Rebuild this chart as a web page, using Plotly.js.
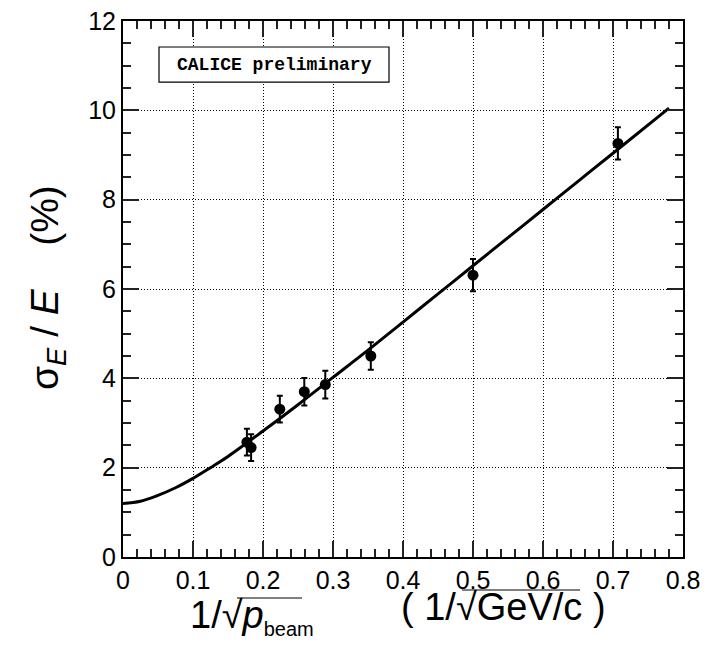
<!DOCTYPE html>
<html>
<head>
<meta charset="utf-8">
<script src="https://cdn.plot.ly/plotly-3.0.1.min.js"></script>
<style>html,body{margin:0;padding:0;background:#fff;}</style>
</head>
<body>
<div id="chart" style="width:721px;height:652px;"></div>
<script>
// Data points: 1/sqrt(p_beam) and relative energy resolution (%)
const xData = [0.177, 0.183, 0.224, 0.259, 0.289, 0.354, 0.500, 0.707];
const yData = [2.57, 2.45, 3.31, 3.70, 3.86, 4.50, 6.31, 9.26];
const yErr  = [0.30, 0.30, 0.30, 0.31, 0.31, 0.31, 0.36, 0.36];

// Fit curve
const xFit = [0, 0.025, 0.05, 0.075, 0.1, 0.125, 0.15, 0.2, 0.25, 0.3, 0.35, 0.4, 0.45, 0.5, 0.55, 0.6, 0.65, 0.7, 0.78];
const yFit = [1.20, 1.25, 1.38, 1.55, 1.76, 2.00, 2.25, 2.82, 3.41, 4.02, 4.63, 5.26, 5.89, 6.52, 7.15, 7.78, 8.41, 9.04, 10.05];

// Axis ticks
const xTicks = [0, 0.1, 0.2, 0.3, 0.4, 0.5, 0.6, 0.7, 0.8];
const yTicks = [0, 2, 4, 6, 8, 10, 12];
const xMinorStep = 0.02;
const yMinorStep = 0.5;

const labelFont = 'Liberation Sans, Arial, Helvetica, sans-serif';

const traces = [
  {
    x: xFit, y: yFit, mode: 'lines', type: 'scatter',
    line: {color: '#000', width: 3, shape: 'spline'},
    hoverinfo: 'skip', showlegend: false
  },
  {
    x: xData, y: yData, mode: 'markers', type: 'scatter',
    marker: {color: '#000', size: 11, symbol: 'circle'},
    error_y: {type: 'data', array: yErr, visible: true, color: '#000', thickness: 2, width: 3},
    showlegend: false
  }
];

const layout = {
  width: 721, height: 652,
  margin: {l: 123, r: 38, t: 21, b: 95, pad: 0},
  xaxis: {
    range: [xTicks[0], xTicks[xTicks.length - 1]], dtick: xTicks[1] - xTicks[0],
    showline: true, linecolor: '#000', linewidth: 2, mirror: 'allticks',
    ticks: 'inside', ticklen: 16, tickwidth: 2, tickcolor: '#222',
    minor: {ticks: 'inside', ticklen: 8, tickwidth: 2, tickcolor: '#222', dtick: xMinorStep},
    showgrid: true, gridcolor: '#000', griddash: '1px,2px',
    tickfont: {family: labelFont, size: 25, color: '#000'}
  },
  yaxis: {
    range: [yTicks[0], yTicks[yTicks.length - 1]], dtick: yTicks[1] - yTicks[0],
    showline: true, linecolor: '#000', linewidth: 2, mirror: 'allticks',
    ticks: 'inside', ticklen: 16, tickwidth: 2, tickcolor: '#222',
    minor: {ticks: 'inside', ticklen: 8, tickwidth: 2, tickcolor: '#222', dtick: yMinorStep},
    showgrid: true, gridcolor: '#000', griddash: '1px,2px',
    tickfont: {family: labelFont, size: 25, color: '#000'}
  },
  shapes: [
    {type: 'rect', xref: 'paper', yref: 'paper', x0: 0.0643, x1: 0.475, y0: 0.886, y1: 0.9515,
     fillcolor: '#fff', line: {color: '#000', width: 1.2}, layer: 'above'},
    // radical overlines
    {type: 'line', xref: 'paper', yref: 'paper', x0: (237-123)/560, x1: (302-123)/560, y0: (557-598)/536, y1: (557-598)/536,
     line: {color: '#000', width: 1.2}},
    {type: 'line', xref: 'paper', yref: 'paper', x0: (462-123)/560, x1: (580-123)/560, y0: (557-590)/536, y1: (557-590)/536,
     line: {color: '#000', width: 1.2}}
  ],
  annotations: [
    {xref: 'paper', yref: 'paper', x: (274-123)/560, y: (557-64.5)/536, xanchor: 'center', yanchor: 'middle',
     text: '<b>CALICE preliminary</b>', showarrow: false,
     font: {family: 'Liberation Mono, Courier New, monospace', size: 18, color: '#000'}},
    {xref: 'paper', yref: 'paper', x: (47-123)/560, y: (557-288)/536, xanchor: 'center', yanchor: 'middle',
     textangle: -90, showarrow: false,
     text: 'σ<sub><i>E</i></sub> / <i>E</i>\u00a0\u00a0\u00a0\u00a0(%)',
     font: {family: labelFont, size: 39, color: '#000'}},
    {xref: 'paper', yref: 'paper', x: (252-123)/560, y: (557-617)/536, xanchor: 'center', yanchor: 'middle',
     showarrow: false,
     text: '1/√<i>p</i><sub><span style="font-size:20px">beam</span></sub>',
     font: {family: labelFont, size: 38, color: '#000'}},
    {xref: 'paper', yref: 'paper', x: (503-123)/560, y: (557-607)/536, xanchor: 'center', yanchor: 'middle',
     showarrow: false,
     text: '( 1/√GeV/c )',
     font: {family: labelFont, size: 38, color: '#000'}}
  ]
};

Plotly.newPlot('chart', traces, layout, {staticPlot: true});
</script>
</body>
</html>
